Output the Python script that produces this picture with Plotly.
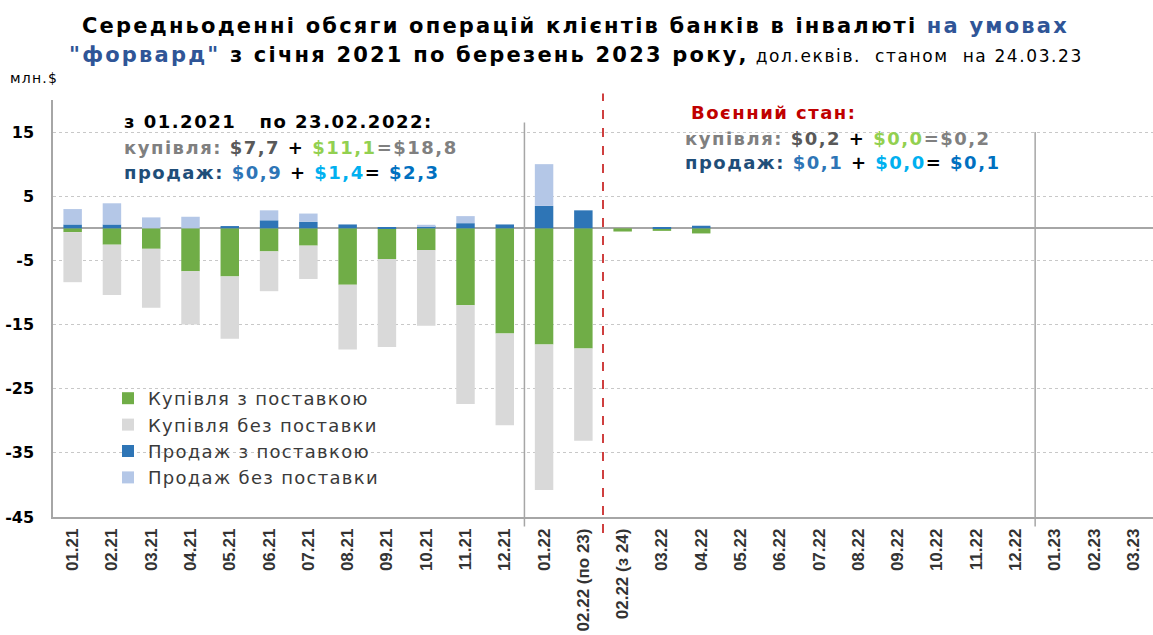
import plotly.graph_objects as go

categories = ["01.21", "02.21", "03.21", "04.21", "05.21", "06.21", "07.21", "08.21",
              "09.21", "10.21", "11.21", "12.21", "01.22", "02.22 (по 23)", "02.22 (з 24)",
              "03.22", "04.22", "05.22", "06.22", "07.22", "08.22", "09.22", "10.22",
              "11.22", "12.22", "01.23", "02.23", "03.23"]

buy_with_delivery = [-0.6, -2.55, -3.2, -6.7, -7.5, -3.6, -2.7, -8.8, -4.8, -3.4, -12.0, -16.4,
                     -18.1, -18.75, -0.5, -0.4, -0.8, 0, 0, 0, 0, 0, 0, 0, 0, 0, 0, 0]
buy_without_delivery = [-7.8, -7.85, -9.2, -8.3, -9.7, -6.2, -5.2, -10.1, -13.7, -11.8, -15.4, -14.3,
                        -22.7, -14.35, 0, 0, 0, 0, 0, 0, 0, 0, 0, 0, 0, 0, 0, 0]
sell_with_delivery = [0.6, 0.6, 0.0, 0.0, 0.35, 1.25, 1.0, 0.6, 0.15, 0.35, 0.8, 0.6,
                      3.5, 2.8, 0, 0.1, 0.4, 0, 0, 0, 0, 0, 0, 0, 0, 0, 0, 0]
sell_without_delivery = [2.4, 3.3, 1.7, 1.8, 0.0, 1.55, 1.3, 0.0, 0.0, 0.2, 1.1, 0.0,
                         6.5, 0.0, 0, 0, 0, 0, 0, 0, 0, 0, 0, 0, 0, 0, 0, 0]

series_names = ["Купівля з поставкою", "Купівля без поставки", "Продаж з поставкою", "Продаж без поставки"]
series_colors = ["#70AD47", "#D9D9D9", "#2E75B6", "#B4C7E7"]
y_ticks = [15, 5, -5, -15, -25, -35, -45]

WIDE = "'DejaVu Sans', Verdana, sans-serif"
ARIAL = "Arial, 'Liberation Sans', sans-serif"

W, H = 1153, 635
L, R, T, B = 53, 0, 100, 118
PW, PH = W - L - R, H - T - B


def ls(text, px):
    return f"<span style='letter-spacing:{px}px'>{text}</span>"


def c(text, color):
    return f"<span style='color:{color}'>{text}</span>"


def px_x(x):
    return (x - L) / PW


def px_y(y):
    return (H - B - y) / PH


fig = go.Figure()
for name, vals, col in zip(series_names,
                           [buy_with_delivery, buy_without_delivery, sell_with_delivery, sell_without_delivery],
                           series_colors):
    fig.add_trace(go.Bar(x=categories, y=vals, name=ls(name, 1.3),
                         marker=dict(color=col, line=dict(width=0))))

n = len(categories)
y0, y1 = -45, 20


def xp(boundary):
    return (boundary + 0.5) / n


def yp(v):
    return (v - y0) / (y1 - y0)


shapes = [
    dict(type="line", xref="paper", yref="paper", x0=xp(11.5), x1=xp(11.5), y0=yp(-46.5), y1=yp(16.5),
         line=dict(color="#A6A6A6", width=1.5)),
    dict(type="line", xref="paper", yref="paper", x0=xp(13.5), x1=xp(13.5), y0=yp(-47.5), y1=yp(21.0),
         line=dict(color="#C00000", width=1.5, dash="dash")),
    dict(type="line", xref="paper", yref="paper", x0=xp(24.5), x1=xp(24.5), y0=yp(-46.5), y1=yp(15.0),
         line=dict(color="#A6A6A6", width=1.5)),
]

annotations = []


def add_text(text, x, y, size, font=WIDE, xanchor="left", color="#000000"):
    annotations.append(dict(text=text, xref="paper", yref="paper", x=px_x(x), y=px_y(y),
                            xanchor=xanchor, yanchor="middle", align="left", showarrow=False,
                            font=dict(family=font, size=size, color=color)))


# title
title1 = ls("<b>Середньоденні обсяги операцій клієнтів банків в інвалюті " + c("на умовах", "#2F5597") + "</b>", 2.2)
title2 = (ls("<b>" + c("\"форвард\"", "#2F5597") + " з січня 2021 по березень 2023 року,</b>", 2.2)
          + ls("<span style='font-size:17px'> дол.еквів.\u00a0 станом\u00a0 на 24.03.23</span>", 1.6))
add_text(title1, 575, 26, 21, xanchor="center")
add_text(title2, 576, 55, 21, xanchor="center")

# left block
S = 1.5
add_text(ls("<b>з 01.2021\u00a0\u00a0 по 23.02.2022:</b>", S), 122, 121, 18)
add_text(ls("<b>" + c("купівля: ", "#808080") + c("$7,7", "#595959") + " + " + c("$11,1", "#92D050")
            + c("=$18,8", "#808080") + "</b>", S), 122, 148, 18)
add_text(ls("<b>" + c("продаж: ", "#1F4E79") + c("$0,9", "#2E75B6") + " + " + c("$1,4", "#00B0F0")
            + "= " + c("$2,3", "#0070C0") + "</b>", S), 122, 172, 18)

# right block
add_text(ls("<b>" + c("Воєнний стан:", "#C00000") + "</b>", S), 689, 112, 18)
add_text(ls("<b>" + c("купівля: ", "#808080") + c("$0,2", "#595959") + " + " + c("$0,0", "#92D050")
            + c("=$0,2", "#808080") + "</b>", S), 683, 138, 18)
add_text(ls("<b>" + c("продаж: ", "#1F4E79") + c("$0,1", "#2E75B6") + " + " + c("$0,0", "#00B0F0")
            + "= " + c("$0,1", "#0070C0") + "</b>", S), 683, 163, 18)

# unit label
add_text(ls("млн.$", 1.2), 8, 78, 14)

fig.update_layout(
    width=W, height=H,
    margin=dict(l=L, r=R, t=T, b=B, autoexpand=False),
    paper_bgcolor="white", plot_bgcolor="white",
    barmode="relative", bargap=0.53,
    font=dict(family=ARIAL, color="#000000"),
    showlegend=True,
    legend=dict(x=px_x(108), y=px_y(380), xanchor="left", yanchor="top", traceorder="normal",
                bgcolor="rgba(0,0,0,0)", font=dict(family=WIDE, size=18, color="#3A3A3A"),
                itemwidth=30, tracegroupgap=0),
    shapes=shapes,
    annotations=annotations,
    xaxis=dict(type="category", range=[-0.5, n - 0.5], tickangle=-90, automargin=False,
               tickvals=categories, ticktext=["<b>" + t + "</b>" for t in categories],
               tickfont=dict(family=ARIAL, size=17, color="#333333"),
               showline=True, linecolor="#A6A6A6", linewidth=1.5,
               showgrid=False, ticks="", ticklabelstandoff=3),
    yaxis=dict(range=[y0, y1], tickvals=y_ticks, automargin=False,
               ticktext=["<b>" + str(v) + "</b>" for v in y_ticks],
               tickfont=dict(family=WIDE, size=16, color="#000000"),
               showgrid=True, gridcolor="#C8C8C8", griddash="dot", gridwidth=1,
               zeroline=True, zerolinecolor="#A6A6A6", zerolinewidth=1.5,
               showline=True, linecolor="#A6A6A6", linewidth=1.5, ticks="", ticklabelstandoff=14),
)

fig.write_html("out.html", config={"displayModeBar": False},
               post_script="document.body.style.margin='0px';")
